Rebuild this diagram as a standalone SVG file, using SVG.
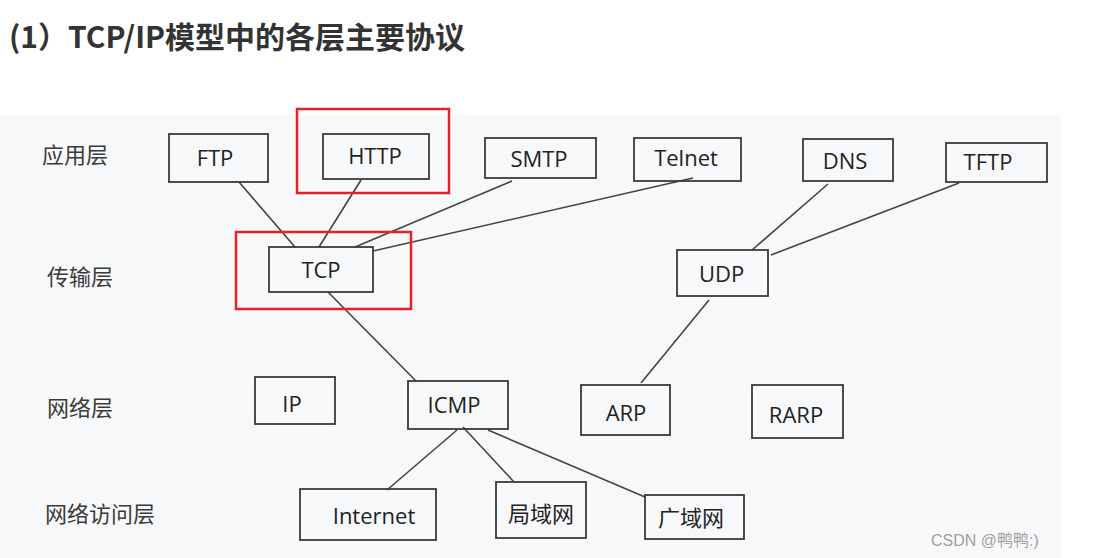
<svg xmlns="http://www.w3.org/2000/svg" width="1095" height="558" viewBox="0 0 1095 558">
<style>
.bg{fill:#f7f8fa}
.box{fill:none;stroke:#3a3a3a;stroke-width:1.8}
.hl{fill:none;stroke:#e8202a;stroke-width:2.5}
.lbl{font-family:"Open Sans","Noto Sans","Noto Sans CJK SC",sans-serif;font-size:22px;fill:#222;text-anchor:middle}
.cjk{font-family:"Noto Sans CJK SC",sans-serif;font-size:22px;fill:#222;text-anchor:middle}
.layer{font-family:"Noto Sans CJK SC",sans-serif;font-size:22px;fill:#3a3a3a}
.title{font-family:"Noto Sans CJK SC",sans-serif;font-size:30px;font-weight:bold;fill:#333}
.wm{font-family:"Liberation Sans","Noto Sans CJK SC",sans-serif;font-size:16px;fill:#a0a0a0}
#connectors line{stroke:#444;stroke-width:1.6}
</style>
<rect x="0" y="0" width="1095" height="558" fill="#ffffff"/>
<text class="title" x="9" y="48">(1）TCP/IP模型中的各层主要协议</text>
<rect class="bg" x="0" y="115" width="1061" height="443"/>

<g id="layers">
<text class="layer" x="42" y="163">应用层</text>
<text class="layer" x="47" y="285">传输层</text>
<text class="layer" x="47" y="416">网络层</text>
<text class="layer" x="45" y="522">网络访问层</text>
</g>

<g id="connectors">
<line x1="239" y1="182" x2="295" y2="247"/>
<line x1="361" y1="180" x2="319" y2="247"/>
<line x1="512" y1="181" x2="355" y2="247"/>
<line x1="693" y1="178" x2="373" y2="251"/>
<line x1="828" y1="184" x2="752" y2="250"/>
<line x1="959" y1="183" x2="771" y2="255"/>
<line x1="328" y1="292" x2="416" y2="381"/>
<line x1="709" y1="300" x2="641" y2="383"/>
<line x1="457" y1="430" x2="387" y2="490"/>
<line x1="463" y1="427" x2="514" y2="482"/>
<line x1="488" y1="430" x2="645" y2="497"/>
</g>

<g id="FTP"><rect class="box" x="169" y="134" width="99" height="48"/><text class="lbl" x="215" y="166">FTP</text></g>
<g id="HTTP"><rect class="box" x="323" y="134" width="106" height="45"/><text class="lbl" x="375" y="164">HTTP</text></g>
<g id="SMTP"><rect class="box" x="485" y="138" width="111" height="40"/><text class="lbl" x="539" y="167">SMTP</text></g>
<g id="Telnet"><rect class="box" x="634" y="138" width="107" height="43"/><text class="lbl" x="686" y="166">Telnet</text></g>
<g id="DNS"><rect class="box" x="803" y="139" width="90" height="42"/><text class="lbl" x="845" y="169">DNS</text></g>
<g id="TFTP"><rect class="box" x="946" y="143" width="101" height="39"/><text class="lbl" x="988" y="170">TFTP</text></g>
<g id="TCP"><rect class="box" x="269" y="247" width="104" height="45"/><text class="lbl" x="321" y="278">TCP</text></g>
<g id="UDP"><rect class="box" x="677" y="250" width="91" height="46"/><text class="lbl" x="721.5" y="282">UDP</text></g>
<g id="IP"><rect class="box" x="255" y="377" width="80" height="47"/><text class="lbl" x="292" y="412">IP</text></g>
<g id="ICMP"><rect class="box" x="408" y="381" width="100" height="48"/><text class="lbl" x="454" y="413">ICMP</text></g>
<g id="ARP"><rect class="box" x="581" y="385" width="89" height="50"/><text class="lbl" x="626" y="421">ARP</text></g>
<g id="RARP"><rect class="box" x="752" y="385" width="91" height="53"/><text class="lbl" x="796" y="423">RARP</text></g>
<g id="Internet"><rect class="box" x="300" y="489" width="136" height="51"/><text class="lbl" x="374" y="524">Internet</text></g>
<g id="LAN"><rect class="box" x="496" y="482" width="90" height="56"/><text class="cjk" x="541" y="522">局域网</text></g>
<g id="WAN"><rect class="box" x="645" y="495" width="99" height="44"/><text class="cjk" x="691" y="526">广域网</text></g>

<g id="highlights">
<rect class="hl" x="297" y="109" width="152" height="84"/>
<rect class="hl" x="236" y="232" width="175" height="77"/>
</g>

<text class="wm" x="931" y="546">CSDN @鸭鸭:)</text>
</svg>
